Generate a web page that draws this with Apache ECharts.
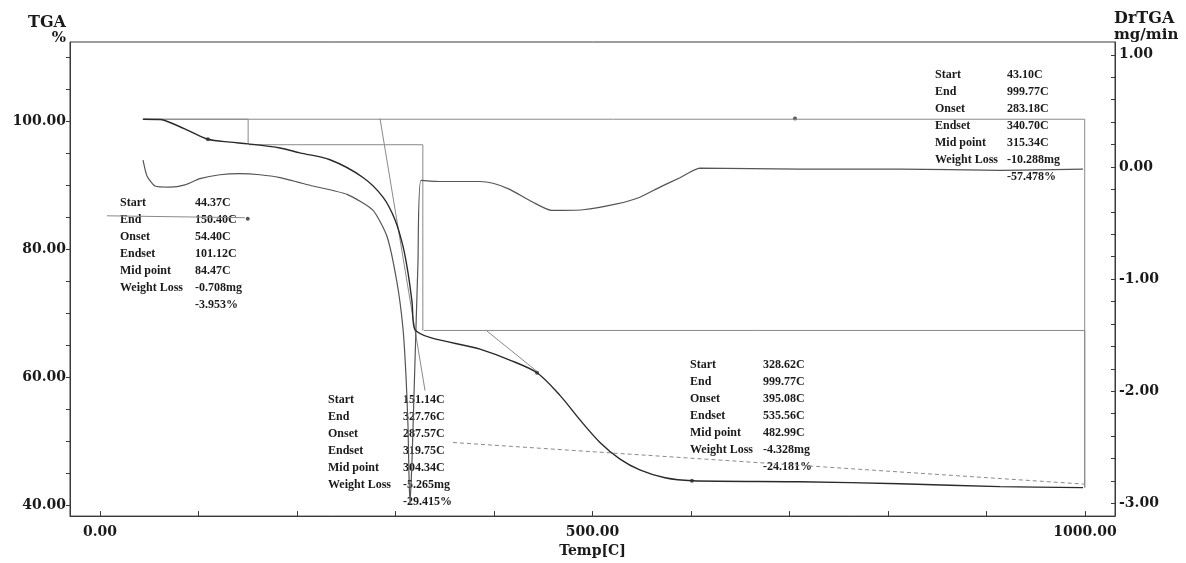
<!DOCTYPE html>
<html>
<head>
<meta charset="utf-8">
<script src="https://cdn.jsdelivr.net/npm/echarts@6/dist/echarts.min.js"></script>
<style>
html, body { margin: 0; background: #fff; }
#chart { width: 1186px; height: 563px; }
</style>
</head>
<body>
<div id="chart"></div>
<script>
// TGA curve: temperature (C) / weight (%)
var tgaTemp = [43.7, 61, 76, 91.4, 109.6, 132, 150, 182.7, 203, 233.5, 267, 287.3, 299.5, 307.6, 312.7, 316.8, 319.8,
  385.8, 416, 443.7, 467, 487.3, 507.6, 528, 548, 573.6, 601, 710.7, 812, 913.7, 998];
var tgaPct = [100.28, 100.23, 99.46, 98.39, 97.16, 96.70, 96.44, 95.79, 95.02, 93.95, 91.19, 88.12, 84.60, 80.46, 76.32, 71.72, 67.43,
  64.37, 62.68, 60.69, 57.16, 53.33, 49.81, 47.20, 45.52, 44.29, 43.83, 43.68, 43.37, 42.91, 42.76];

// DrTGA curve: temperature (C) / rate (mg/min)
var drTemp = [43.7, 47.7, 55.8, 71, 86.3, 101.5, 121.8, 142, 162.4, 182.7, 216, 250.8, 277, 291.4, 301.5, 307.6, 310.7, 312.7, 313.7,
  314.7, 316.8, 319.8, 322.8, 325.9, 345, 385.8, 399, 416, 439.6, 458.6, 490.4, 524.6, 548.2, 568.5, 588.8, 609, 710.7, 812, 913.7, 998];
var drRate = [0.06, -0.08, -0.17, -0.18, -0.16, -0.105, -0.07, -0.06, -0.07, -0.096, -0.17, -0.245, -0.385, -0.62, -1.03, -1.44, -1.87, -2.31, -2.75,
  -3.0, -2.61, -1.73, -0.86, -0.12, -0.13, -0.13, -0.146, -0.20, -0.315, -0.388, -0.382, -0.33, -0.27, -0.18, -0.096, -0.01, -0.02, -0.02, -0.03, -0.02];

// analysis lines drawn by the instrument (temp, %)
var boxAll = [[43.1, 100.28], [999.77, 100.28], [999.77, 42.76]];
var box1 = [[44.37, 100.28], [150.4, 100.28], [150.4, 96.44]];
var box2 = [[151.14, 96.3], [327.76, 96.3], [327.76, 67.3]];
var box3 = [[328.62, 67.3], [999.77, 67.3], [999.77, 42.76]];
var tangent2 = [[284.3, 100.38], [330, 57.9]];
var tangent3 = [[392.9, 67.2], [443.7, 60.9]];
var step1Line = [[7, 85.2], [147, 84.9]];
var endsetLine = [[358.4, 49.8], [1000, 43.3]];
var markPts = [[109.6, 97.16], [150, 84.75], [443.7, 60.69], [601, 43.83], [705.6, 100.38]];

// result tables
var rowNames = ['Start', 'End', 'Onset', 'Endset', 'Mid point', 'Weight Loss'];
var step1Vals = ['44.37C', '150.40C', '54.40C', '101.12C', '84.47C', '-0.708mg', '-3.953%'];
var step2Vals = ['151.14C', '327.76C', '287.57C', '319.75C', '304.34C', '-5.265mg', '-29.415%'];
var step3Vals = ['328.62C', '999.77C', '395.08C', '535.56C', '482.99C', '-4.328mg', '-24.181%'];
var totalVals = ['43.10C', '999.77C', '283.18C', '340.70C', '315.34C', '-10.288mg', '-57.478%'];

// axis ticks
var tempTicks = [0, 100, 200, 300, 400, 500, 600, 700, 800, 900, 1000];
var tempLabels = [0, 500, 1000];
var tgaTicks = [40, 45, 50, 55, 60, 65, 70, 75, 80, 85, 90, 95, 100, 105, 110];
var tgaLabels = [40, 60, 80, 100];
var drTicks = [-3, -2.8, -2.6, -2.4, -2.2, -2, -1.8, -1.6, -1.4, -1.2, -1, -0.8, -0.6, -0.4, -0.2, 0, 0.2, 0.4, 0.6, 0.8, 1];
var drLabels = [-3, -2, -1, 0, 1];

var axisFont = 'DejaVu Serif';
var tableFont = 'bold 12px "Liberation Serif"';

function zip(a, b) {
  return a.map(function (v, i) { return [v, b[i]]; });
}

function annot(pts, dashed) {
  return {
    type: 'line', data: pts, yAxisIndex: 0, showSymbol: false, silent: true,
    lineStyle: { color: '#8a8a8a', width: 1, type: dashed ? [4, 3] : 'solid' }
  };
}

var graphics = [
  { type: 'text', x: 66, y: 23, style: { text: 'TGA', font: 'bold 16px "DejaVu Serif"', fill: '#1a1a1a', textAlign: 'right', textVerticalAlign: 'middle' } },
  { type: 'text', x: 66, y: 38, style: { text: '%', font: 'bold 15px "DejaVu Serif"', fill: '#1a1a1a', textAlign: 'right', textVerticalAlign: 'middle' } },
  { type: 'text', x: 1114, y: 19, style: { text: 'DrTGA', font: 'bold 16px "DejaVu Serif"', fill: '#1a1a1a', textAlign: 'left', textVerticalAlign: 'middle' } },
  { type: 'text', x: 1114, y: 35, style: { text: 'mg/min', font: 'bold 15px "DejaVu Serif"', fill: '#1a1a1a', textAlign: 'left', textVerticalAlign: 'middle' } }
];

var tables = [
  { vals: step1Vals, x: 120, vx: 195, y: 203 },
  { vals: step2Vals, x: 328, vx: 403, y: 400 },
  { vals: step3Vals, x: 690, vx: 763, y: 365 },
  { vals: totalVals, x: 935, vx: 1007, y: 75 }
];
tables.forEach(function (t) {
  t.vals.forEach(function (v, i) {
    if (i < rowNames.length) {
      graphics.push({ type: 'text', x: t.x, y: t.y + i * 17, style: { text: rowNames[i], font: tableFont, fill: '#1a1a1a', textVerticalAlign: 'middle' } });
    }
    graphics.push({ type: 'text', x: t.vx, y: t.y + i * 17, style: { text: v, font: tableFont, fill: '#1a1a1a', textVerticalAlign: 'middle' } });
  });
});

var chart = echarts.init(document.getElementById('chart'));

var option = {
  backgroundColor: '#ffffff',
  animation: false,
  grid: { left: 70, right: 71, top: 42, bottom: 38, show: true, borderColor: '#3a3a3a', borderWidth: 1 },
  xAxis: {
    type: 'value', min: -30.46, max: 1030.5,
    name: 'Temp[C]', nameLocation: 'middle', nameGap: 23,
    nameTextStyle: { fontFamily: axisFont, fontWeight: 'bold', fontSize: 14, color: '#1a1a1a' },
    axisLine: { onZero: false, lineStyle: { color: '#3a3a3a' } },
    axisTick: { inside: true, length: 5, customValues: tempTicks, lineStyle: { color: '#3a3a3a' } },
    axisLabel: {
      customValues: tempLabels, margin: 9,
      fontFamily: axisFont, fontWeight: 'bold', fontSize: 14, color: '#1a1a1a',
      formatter: function (v) { return v.toFixed(2); }
    },
    splitLine: { show: false }
  },
  yAxis: [{
    type: 'value', position: 'left', min: 38.31, max: 112.34,
    axisLine: { show: true, onZero: false, lineStyle: { color: '#3a3a3a' } },
    axisTick: { show: true, length: 4, customValues: tgaTicks, lineStyle: { color: '#3a3a3a' } },
    axisLabel: {
      customValues: tgaLabels, margin: 4,
      fontFamily: axisFont, fontWeight: 'bold', fontSize: 14, color: '#1a1a1a',
      formatter: function (v) { return v.toFixed(2); }
    },
    splitLine: { show: false }
  }, {
    type: 'value', position: 'right', min: -3.114, max: 1.114,
    axisLine: { show: true, onZero: false, lineStyle: { color: '#3a3a3a' } },
    axisTick: { show: true, inside: true, length: 4, customValues: drTicks, lineStyle: { color: '#3a3a3a' } },
    axisLabel: {
      customValues: drLabels, margin: 4,
      fontFamily: axisFont, fontWeight: 'bold', fontSize: 14, color: '#1a1a1a',
      formatter: function (v) { return v.toFixed(2); }
    },
    splitLine: { show: false }
  }],
  series: [
    annot(boxAll), annot(box1), annot(box2), annot(box3),
    annot(tangent2), annot(tangent3), annot(step1Line), annot(endsetLine, true),
    {
      name: 'DrTGA', type: 'line', yAxisIndex: 1, data: zip(drTemp, drRate),
      showSymbol: false, smooth: 0.2, lineStyle: { color: '#555555', width: 1.2 }
    },
    {
      name: 'TGA', type: 'line', yAxisIndex: 0, data: zip(tgaTemp, tgaPct),
      showSymbol: false, smooth: 0.3, lineStyle: { color: '#2a2a2a', width: 1.4 }
    },
    {
      type: 'scatter', yAxisIndex: 0, data: markPts, symbolSize: 4, silent: true,
      itemStyle: { color: '#2a2a2a' }
    }
  ],
  graphic: graphics
};

chart.setOption(option);
</script>
</body>
</html>
